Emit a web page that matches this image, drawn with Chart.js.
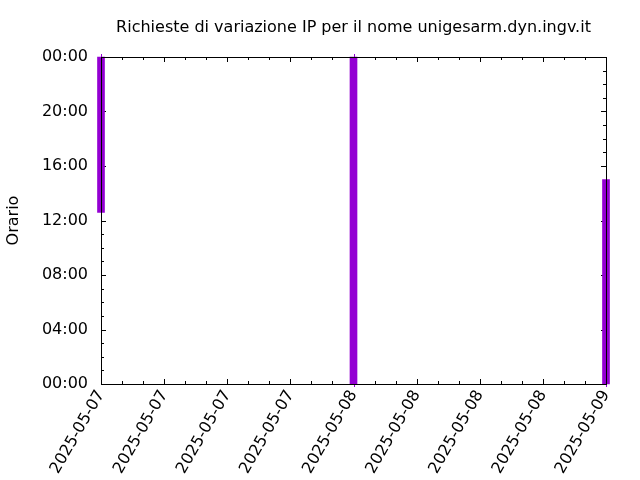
<!DOCTYPE html>
<html lang="it">
<head>
<meta charset="UTF-8">
<title>Richieste di variazione IP</title>
<script src="https://cdn.jsdelivr.net/npm/chart.js"></script>
<style>
  html, body { margin: 0; padding: 0; background: #fff; }
</style>
</head>
<body>
<canvas id="ipChart" width="640" height="480"></canvas>
<script>
// giorni sull'asse x, le barre sono in ore contate dalla mezzanotte del primo giorno
const days = ['2025-05-07', '2025-05-08', '2025-05-09'];
const barHours = [0, 24, 48];
const startTimes = [12.6, 0, 0];
const endTimes = [24, 24, 15];
const barColor = '#9400d3';

const FONT = { family: '"DejaVu Sans", sans-serif', size: 16 };
const pad2 = n => String(n).padStart(2, '0');

// tick interni, baffi e bordo in stile gnuplot
const gnuplotFrame = {
  id: 'gnuplotFrame',
  beforeDatasetsDraw(chart) {
    const { ctx, chartArea: a, scales: { x, y } } = chart;
    ctx.save();
    ctx.strokeStyle = '#000';
    ctx.lineWidth = 1;
    ctx.beginPath();
    for (let h = 0; h <= 24; h++) {
      const len = h % 4 === 0 ? 5 : 3;
      const py = Math.round(y.getPixelForValue(h)) + 0.5;
      ctx.moveTo(a.left, py); ctx.lineTo(a.left + len, py);
      ctx.moveTo(a.right, py); ctx.lineTo(a.right - len, py);
    }
    for (let h = 0; h <= 48; h += 2) {
      const len = h % 6 === 0 ? 5 : 3;
      const px = Math.round(x.getPixelForValue(h)) + 0.5;
      ctx.moveTo(px, a.bottom); ctx.lineTo(px, a.bottom - len);
      ctx.moveTo(px, a.top); ctx.lineTo(px, a.top + len);
    }
    ctx.stroke();
    ctx.restore();
  },
  afterDatasetsDraw(chart) {
    const { ctx, chartArea: a, scales: { x, y } } = chart;
    ctx.save();
    ctx.lineWidth = 1;
    ctx.strokeStyle = barColor;
    ctx.beginPath();
    barHours.forEach((h, i) => {
      const px = Math.round(x.getPixelForValue(h)) + 0.5;
      ctx.moveTo(px, y.getPixelForValue(endTimes[i]) - 3);
      ctx.lineTo(px, y.getPixelForValue(startTimes[i]) + 3);
    });
    ctx.stroke();
    ctx.strokeStyle = '#000';
    ctx.strokeRect(a.left + 0.5, a.top + 0.5, a.right - a.left, a.bottom - a.top);
    ctx.restore();
  }
};

new Chart(document.getElementById('ipChart'), {
  type: 'bar',
  data: {
    datasets: [{
      data: barHours.map((h, i) => ({ x: h, y: [startTimes[i], endTimes[i]] })),
      backgroundColor: barColor,
      borderWidth: 0,
      barThickness: 7,
      clip: false
    }]
  },
  options: {
    responsive: false,
    animation: false,
    layout: { padding: { left: 0, right: 34, top: 0, bottom: 0 } },
    plugins: {
      legend: { display: false },
      tooltip: { enabled: false },
      title: {
        display: true,
        fullSize: false,
        text: 'Richieste di variazione IP per il nome unigesarm.dyn.ingv.it',
        color: '#000',
        font: { ...FONT, weight: 'normal' },
        padding: { top: 18, bottom: 19.8 }
      }
    },
    scales: {
      x: {
        type: 'linear',
        min: 0,
        max: 48,
        offset: false,
        grid: { display: false, drawTicks: false },
        border: { display: false },
        ticks: {
          stepSize: 6,
          autoSkip: false,
          minRotation: 60,
          maxRotation: 60,
          padding: 3,
          color: '#000',
          font: FONT,
          callback: v => days[Math.floor(v / 24)]
        },
        afterFit: s => { s.height = 96; }
      },
      y: {
        min: 0,
        max: 24,
        grid: { display: false, drawTicks: false },
        border: { display: false },
        ticks: {
          stepSize: 4,
          padding: 13,
          color: '#000',
          font: FONT,
          callback: v => pad2(v % 24) + ':00'
        },
        title: {
          display: true,
          text: 'Orario',
          color: '#000',
          font: FONT,
          padding: { top: 4, bottom: 0 }
        },
        afterFit: s => { s.width = 101; }
      }
    }
  },
  plugins: [gnuplotFrame]
});
</script>
</body>
</html>
